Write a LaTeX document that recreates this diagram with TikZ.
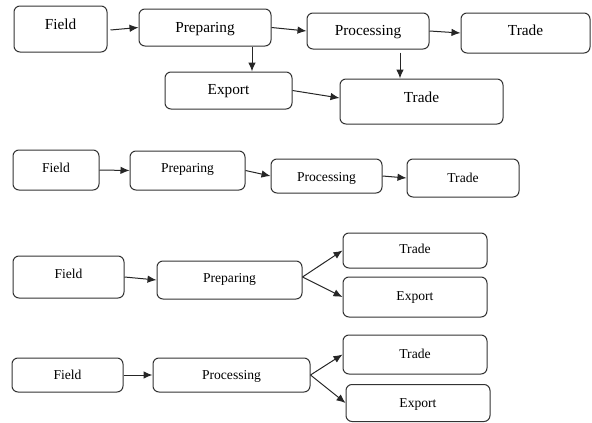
\documentclass[tikz,border=0pt]{standalone}
\usepackage{fontspec}
\setmainfont{Liberation Serif}
\newfontfamily\tmsfont{Liberation Serif}
\usetikzlibrary{arrows.meta}
\begin{document}
\begin{tikzpicture}[x=1pt,y=-1pt,
  box/.style={draw=black!80,line width=1pt,rounded corners=6pt,inner sep=0pt,fill=white},
  lbl/.style={anchor=base,inner sep=0pt,font=\tmsfont\fontsize{13.6}{16}\selectfont},
  lblb/.style={anchor=base,inner sep=0pt,font=\tmsfont\fontsize{15.3}{18}\selectfont},
  arr/.style={draw=black!85,line width=1pt,-{Latex[length=9pt,width=7.5pt]}}]
\useasboundingbox (0,0) rectangle (592,423);
% Row 1
\node[box,minimum width=93pt,minimum height=46pt] (f1) at (60.5,29) {};
\node[lblb] (f1t) at (60.5,29) {Field};
\node[box,minimum width=132pt,minimum height=37pt] (p1) at (205,27.5) {};
\node[lblb] (p1t) at (205,32) {Preparing};
\node[box,minimum width=122pt,minimum height=36pt] (q1) at (368,31) {};
\node[lblb] (q1t) at (368,35) {Processing};
\node[box,minimum width=129pt,minimum height=40pt] (t1) at (525.5,33) {};
\node[lblb] (t1t) at (525.5,35) {Trade};
\node[box,minimum width=127pt,minimum height=37pt] (e1) at (228.5,90.5) {};
\node[lblb] (e1t) at (228.5,94) {Export};
\node[box,minimum width=163pt,minimum height=45pt] (t2) at (421.5,101.5) {};
\node[lblb] (t2t) at (421.5,102) {Trade};
\draw[arr] ([xshift=3pt,yshift=-1pt]f1.east) -- (p1.west);
\draw[arr] (p1.east) -- (q1.west);
\draw[arr] (q1.east) -- (t1.west);
\draw[arr] ([xshift=47pt]p1.south) -- ([xshift=47pt]p1.south |- e1.north);
\draw[arr] ([xshift=32pt,yshift=-3pt]q1.south) -- ([xshift=32pt]q1.south |- t2.north);
\draw[arr] (e1.east) -- ([yshift=3.5pt]t2.west);
% Row 2
\node[box,minimum width=86pt,minimum height=40pt] (f2) at (56,170) {};
\node[lbl] (f2t) at (56,172) {Field};
\node[box,minimum width=115pt,minimum height=39pt] (p2) at (187.5,170.5) {};
\node[lbl] (p2t) at (187.5,172) {Preparing};
\node[box,minimum width=111pt,minimum height=34pt] (q2) at (326.5,176) {};
\node[lbl] (q2t) at (326.5,181) {Processing};
\node[box,minimum width=112pt,minimum height=38pt] (t2b) at (463,178) {};
\node[lbl] (t2bt) at (463,182) {Trade};
\draw[arr] (f2.east) -- (p2.west);
\draw[arr] (p2.east) -- (q2.west);
\draw[arr] (q2.east) -- (t2b.west);
% Row 3
\node[box,minimum width=111pt,minimum height=42pt] (f3) at (68.5,277) {};
\node[lbl] (f3t) at (68.5,278) {Field};
\node[box,minimum width=145pt,minimum height=38pt] (p3) at (229.5,280) {};
\node[lbl] (p3t) at (229.5,282) {Preparing};
\node[box,minimum width=144pt,minimum height=35pt] (t3) at (415,250.5) {};
\node[lbl] (t3t) at (415,253) {Trade};
\node[box,minimum width=144pt,minimum height=40pt] (x3) at (415,297) {};
\node[lbl] (x3t) at (415,300) {Export};
\draw[arr] (f3.east) -- (p3.west);
\draw[arr] ([yshift=3pt]p3.east) -- (t3.west);
\draw[arr] ([yshift=3pt]p3.east) -- (x3.west);
% Row 4
\node[box,minimum width=111pt,minimum height=34pt] (f4) at (67.5,375) {};
\node[lbl] (f4t) at (67.5,379) {Field};
\node[box,minimum width=157pt,minimum height=34pt] (q4) at (231.5,375) {};
\node[lbl] (q4t) at (231.5,379) {Processing};
\node[box,minimum width=144pt,minimum height=39pt] (t4) at (415,354.5) {};
\node[lbl] (t4t) at (415,358) {Trade};
\node[box,minimum width=144pt,minimum height=37pt] (x4) at (418,403) {};
\node[lbl] (x4t) at (418,407) {Export};
\draw[arr] (f4.east) -- (q4.west);
\draw[arr] (q4.east) -- (t4.west);
\draw[arr] (q4.east) -- (x4.west);
\end{tikzpicture}
\end{document}
